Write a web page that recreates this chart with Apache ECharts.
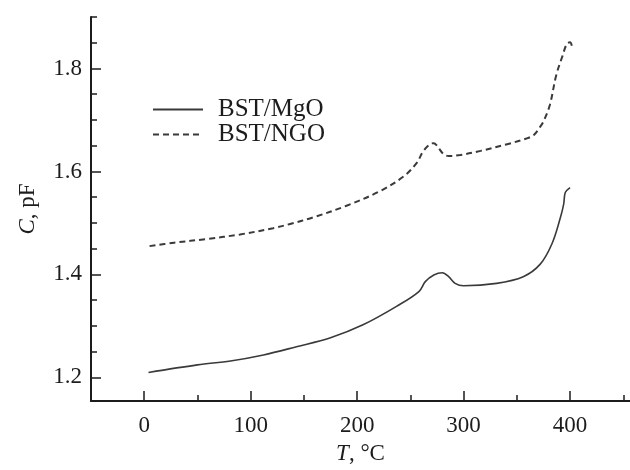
<!DOCTYPE html>
<html>
<head>
<meta charset="utf-8">
<title>C(T) of BST films</title>
<script src="https://cdn.jsdelivr.net/npm/echarts@6/dist/echarts.min.js"></script>
<style>
  html, body { margin: 0; padding: 0; background: #fff; }
  #chart { width: 630px; height: 470px; }
</style>
</head>
<body>
<div id="chart"></div>
<script>
// Capacitance versus temperature for BST films on two substrates
const tempMgO = [4, 50, 81, 112, 143, 175, 206, 237, 258, 264, 272, 280, 286, 292, 300, 331, 356, 372, 383, 391, 394, 395.5, 400];
const capMgO  = [1.2096, 1.2244, 1.232, 1.2437, 1.2596, 1.277, 1.3027, 1.338, 1.3667, 1.386, 1.399, 1.4033, 1.3956, 1.3827, 1.378, 1.3827, 1.3956, 1.42, 1.4596, 1.511, 1.5365, 1.559, 1.5687];

const tempNGO = [5, 28, 59, 90, 121, 137, 159, 190, 222, 244, 256, 262, 268.5, 272, 275, 281, 286, 297, 316, 341, 359, 366, 372, 375, 381, 387, 393, 397, 400, 402];
const capNGO  = [1.455, 1.4615, 1.469, 1.4777, 1.4898, 1.498, 1.511, 1.5335, 1.5623, 1.591, 1.6167, 1.639, 1.653, 1.655, 1.650, 1.634, 1.630, 1.632, 1.640, 1.653, 1.664, 1.671, 1.687, 1.697, 1.729, 1.787, 1.825, 1.848, 1.851, 1.841];

const seriesNames = ['BST/MgO', 'BST/NGO'];

// Axis ticks and labels
const xMajor = [0, 100, 200, 300, 400];
const xMinor = [50, 150, 250, 350, 450];
const yMajor = [1.2, 1.4, 1.6, 1.8];
const yMinor = [1.25, 1.3, 1.35, 1.45, 1.5, 1.55, 1.65, 1.7, 1.75, 1.85, 1.9];

const X_MIN = -50, X_MAX = 456.3;
const Y_MIN = 1.154, Y_MAX = 1.9;

const FONT = '"Liberation Serif", "DejaVu Serif", serif';
const INK = '#1c1c1c';
const LINE = '#3a3a3a';

const pairs = (xs, ys) => xs.map((x, i) => [x, ys[i]]);

// Build one axis that only carries ticks at the given values
function tickAxis(kind, values, len) {
  const range = kind === 'x' ? { min: X_MIN, max: X_MAX, position: 'bottom' }
                             : { min: Y_MIN, max: Y_MAX, position: 'left' };
  return Object.assign({ type: 'value', splitLine: { show: false } }, range, {
    axisLine: { show: false, onZero: false },
    axisTick: { show: true, inside: true, length: len, customValues: values,
                lineStyle: { color: INK, width: 1.5 } },
    axisLabel: { show: false }
  });
}

const nameStyle = {
  fontFamily: FONT, fontSize: 23, color: INK,
  rich: { i: { fontFamily: FONT, fontSize: 23, fontStyle: 'italic', color: INK } }
};

const chart = echarts.init(document.getElementById('chart'), null, { renderer: 'canvas' });

chart.setOption({
  animation: false,
  backgroundColor: '#ffffff',
  textStyle: { fontFamily: FONT, color: INK },
  grid: { left: 91, right: 0, top: 17, bottom: 64 },
  legend: {
    orient: 'vertical',
    left: 152,
    top: 97,
    padding: 0,
    itemWidth: 50,
    itemHeight: 26,
    itemGap: 0,
    data: seriesNames,
    itemStyle: { opacity: 0 },
    textStyle: { fontFamily: FONT, fontSize: 25, color: INK, padding: [0, 0, 0, 10] }
  },
  xAxis: [
    {
      type: 'value', min: X_MIN, max: X_MAX, position: 'bottom',
      splitLine: { show: false },
      name: '{i|T}, °C',
      nameLocation: 'middle',
      nameGap: 37,
      nameTextStyle: nameStyle,
      axisLine: { show: true, onZero: false, lineStyle: { color: INK, width: 2 } },
      axisTick: { show: false },
      axisLabel: { show: true, customValues: xMajor, margin: 13, fontFamily: FONT, fontSize: 23, color: INK }
    },
    tickAxis('x', xMajor, 10),
    tickAxis('x', xMinor, 6)
  ],
  yAxis: [
    {
      type: 'value', min: Y_MIN, max: Y_MAX, position: 'left',
      splitLine: { show: false },
      name: '{i|C}, pF',
      nameLocation: 'middle',
      nameGap: 52,
      nameTextStyle: nameStyle,
      axisLine: { show: true, onZero: false, lineStyle: { color: INK, width: 2 } },
      axisTick: { show: false },
      axisLabel: {
        show: true, customValues: yMajor, margin: 9, fontFamily: FONT, fontSize: 23, color: INK,
        formatter: v => v.toFixed(1)
      }
    },
    tickAxis('y', yMajor, 10),
    tickAxis('y', yMinor, 6)
  ],
  series: [
    {
      name: seriesNames[0],
      type: 'line',
      xAxisIndex: 0, yAxisIndex: 0,
      data: pairs(tempMgO, capMgO),
      symbol: 'none',
      smooth: 0.35,
      itemStyle: { color: LINE },
      lineStyle: { color: LINE, width: 1.6, type: 'solid' }
    },
    {
      name: seriesNames[1],
      type: 'line',
      xAxisIndex: 0, yAxisIndex: 0,
      data: pairs(tempNGO, capNGO),
      symbol: 'none',
      smooth: 0.35,
      itemStyle: { color: LINE },
      lineStyle: { color: LINE, width: 2, type: [6, 4] }
    }
  ]
});
</script>
</body>
</html>
